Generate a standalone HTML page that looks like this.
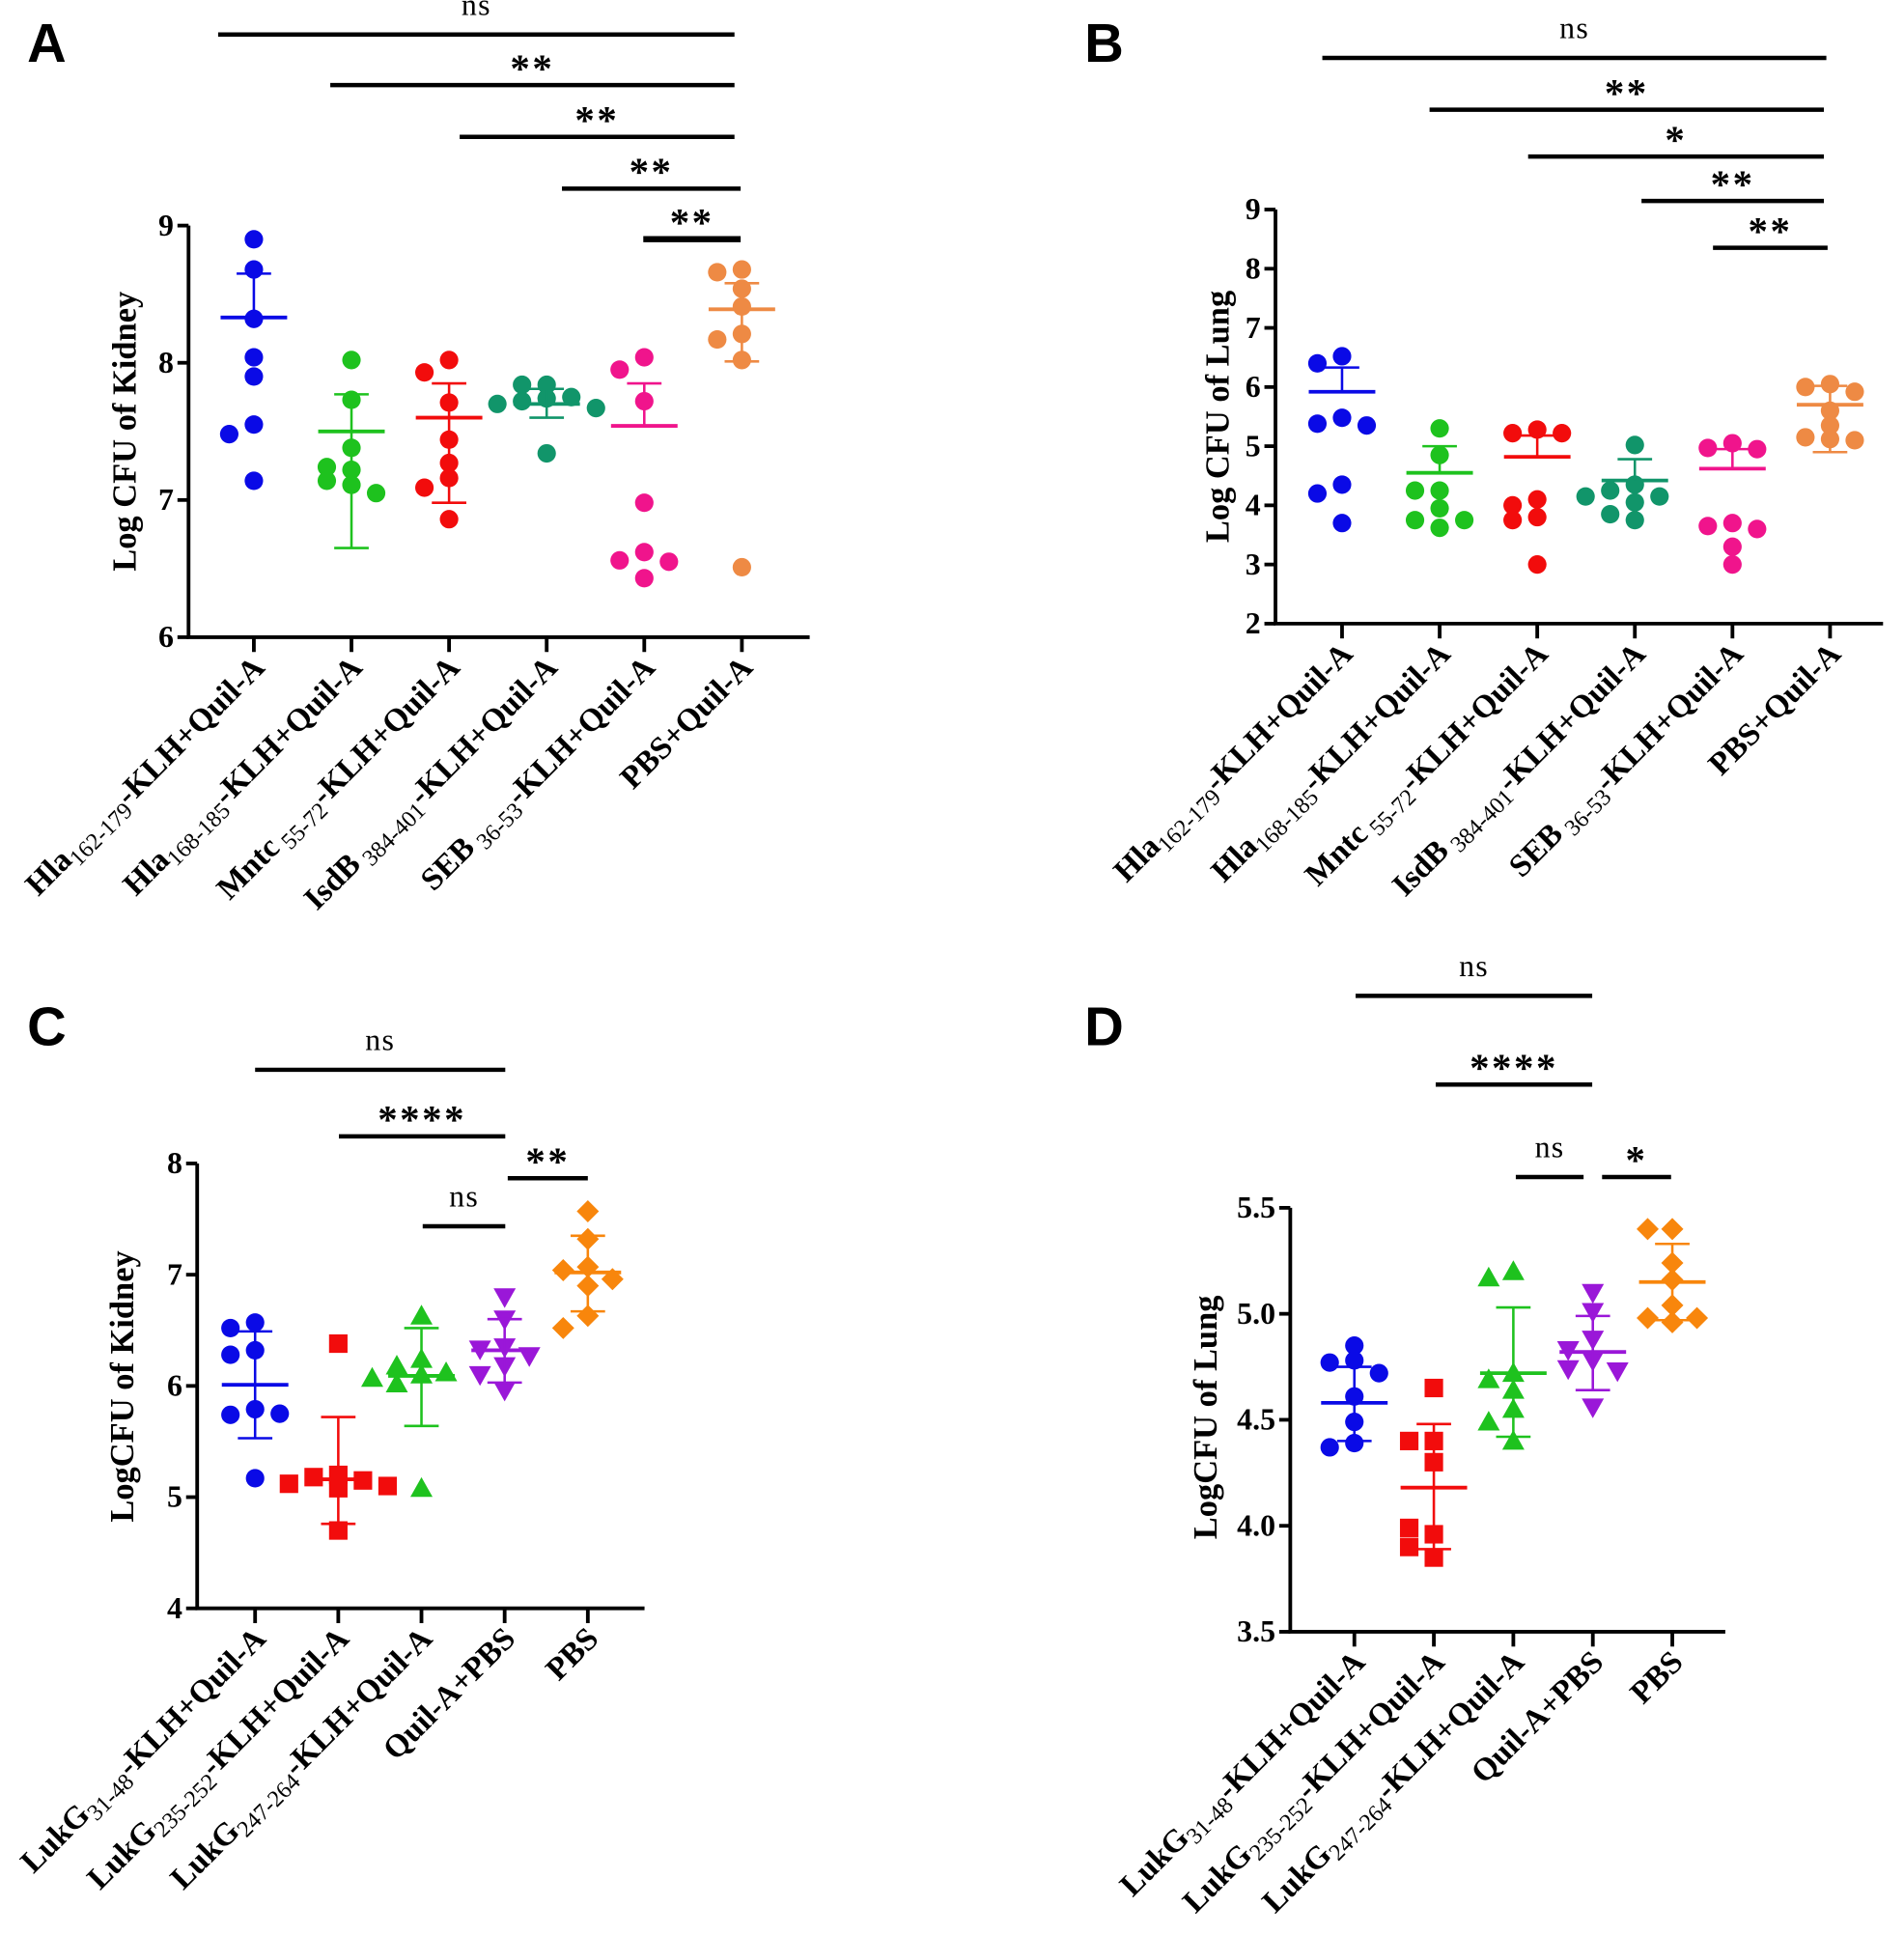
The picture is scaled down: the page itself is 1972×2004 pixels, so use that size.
<!DOCTYPE html>
<html><head><meta charset="utf-8"><style>
html,body{margin:0;padding:0;background:#fff;}
svg{display:block;}
</style></head><body>
<svg id="fig" width="1972" height="2004" viewBox="0 0 1545 1570" xmlns="http://www.w3.org/2000/svg" font-family="Liberation Serif, serif"></svg>
<script>
// ---- Panel A data ----
const catsA = [["Hla","162-179","-KLH+Quil-A"],["Hla","168-185","-KLH+Quil-A"],["Mntc"," 55-72","-KLH+Quil-A"],["IsdB"," 384-401","-KLH+Quil-A"],["SEB"," 36-53","-KLH+Quil-A"],["PBS+Quil-A","",""]];
const valsA = [[8.9,8.68,8.32,8.04,7.9,7.55,7.48,7.14],[8.02,7.73,7.38,7.22,7.24,7.14,7.11,7.05],[8.02,7.93,7.71,7.44,7.27,7.16,7.09,6.86],[7.84,7.84,7.75,7.74,7.72,7.7,7.67,7.34],[8.04,7.95,7.72,6.98,6.62,6.56,6.55,6.43],[8.68,8.66,8.54,8.41,8.21,8.17,8.02,6.51]];
const meanA = [8.33,7.5,7.6,7.7,7.54,8.39];
const upA = [8.65,7.77,7.85,7.81,7.85,8.58];
const loA = [8.33,6.65,6.98,7.6,7.54,8.01];
const ticksA = [6,7,8,9];
// ---- Panel B data ----
const valsB = [[6.52,6.4,5.48,5.38,5.35,4.35,4.2,3.7],[5.3,4.85,4.25,4.25,3.95,3.75,3.62,3.75],[5.28,5.22,5.22,4.1,4.0,3.8,3.75,3.0],[5.02,4.35,4.25,4.15,4.05,4.15,3.85,3.75],[5.05,4.97,4.95,3.7,3.65,3.6,3.3,3.0],[6.05,6.0,5.92,5.6,5.35,5.15,5.12,5.1]];
const meanB = [5.92,4.55,4.82,4.42,4.62,5.7];
const upB = [6.33,5.0,5.18,4.78,4.95,6.02];
const loB = [5.92,4.55,4.82,4.42,4.62,4.9];
const ticksB = [2,3,4,5,6,7,8,9];
// ---- Panel C data ----
const catsC = [["LukG","31-48","-KLH+Quil-A"],["LukG","235-252","-KLH+Quil-A"],["LukG","247-264","-KLH+Quil-A"],["Quil-A+PBS","",""],["PBS","",""]];
const valsC = [[6.57,6.52,6.32,6.28,5.79,5.74,5.75,5.17],[6.38,5.2,5.18,5.15,5.12,5.1,5.08,4.7],[6.63,6.24,6.18,6.12,6.1,6.07,6.02,5.08],[6.8,6.6,6.35,6.33,6.27,6.18,6.1,5.96],[7.57,7.32,7.07,7.04,6.96,6.9,6.63,6.52]];
const meanC = [6.01,5.16,6.09,6.32,7.02];
const upC = [6.49,5.72,6.52,6.6,7.35];
const loC = [5.53,4.76,5.64,6.03,6.67];
const ticksC = [4,5,6,7,8];
// ---- Panel D data ----
const valsD = [[4.85,4.78,4.77,4.72,4.61,4.49,4.39,4.37],[4.65,4.4,4.4,4.3,3.96,3.99,3.9,3.85],[5.2,5.17,4.72,4.69,4.64,4.55,4.49,4.4],[5.1,5.01,4.88,4.83,4.78,4.74,4.73,4.56],[5.4,5.4,5.24,5.16,5.04,4.98,4.98,4.96]];
const meanD = [4.58,4.18,4.72,4.82,5.15];
const upD = [4.75,4.48,5.03,4.99,5.33];
const loD = [4.4,3.89,4.42,4.64,4.97];
const ticksD = [3.5,4.0,4.5,5.0,5.5];

const NS="http://www.w3.org/2000/svg";
const svg=document.getElementById('fig');
function el(tag,attrs,parent){const e=document.createElementNS(NS,tag);for(const k in attrs)e.setAttribute(k,attrs[k]);(parent||svg).appendChild(e);return e;}

function panel(cfg){
  const g=el('g',{});
  
  
  const y=v=>cfg.y0+(v-cfg.vmin)/(cfg.vmax-cfg.vmin)*(cfg.y1-cfg.y0);
  const x=i=>cfg.cx0+i*cfg.dx;
  const L=el('text',{x:cfg.lx,y:cfg.ly,'font-size':44,'font-weight':'bold',style:'font-family:"Liberation Sans",sans-serif'},g);
  L.textContent=cfg.letter;
  
  
  const ax=el('path',{d:`M${cfg.ax} ${cfg.y1} V${cfg.y0} H${cfg.axEnd}`,stroke:'#000','stroke-width':3,fill:'none'},g);
  
  
  cfg.ticks.forEach(t=>{
    el('line',{x1:cfg.ax-9,x2:cfg.ax,y1:y(t),y2:y(t),stroke:'#000','stroke-width':3},g);
    const tt=el('text',{x:cfg.ax-12,y:y(t)+8,'text-anchor':'end','font-size':25,'font-weight':'bold'},g);
    tt.textContent=cfg.fmt(t);
    
    
  });
  const yt=el('text',{x:0,y:0,transform:`translate(${cfg.ytx},${cfg.yty}) rotate(-90)`,'text-anchor':'middle','font-size':27,'font-weight':'bold'},g);
  yt.textContent=cfg.ytitle;
  
  
  cfg.cats.forEach((c,i)=>{
    el('line',{x1:x(i),x2:x(i),y1:cfg.y0,y2:cfg.y0+12,stroke:'#000','stroke-width':3},g);
    const t=el('text',{x:0,y:0,transform:`translate(${x(i)+10},${cfg.y0+26}) rotate(-45)`,'text-anchor':'end','font-size':26,'font-weight':'bold'},g);
    
    
    const a=el('tspan',{},t);a.textContent=c[0];
    if(c[1]){const b=el('tspan',{'font-weight':'normal','font-size':19,dy:6},t);b.textContent=c[1];
      const d=el('tspan',{dy:-6},t);d.textContent=c[2];}
  });
  cfg.vals.forEach((arr,i)=>{
    const col=cfg.colors[i];
    const placed=[];
    arr.forEach(v=>{
      const py=y(v);let off=0;
      for(const o of [0,-20,20,-40,40]){if(placed.every(p=>Math.hypot(p[0]-o,p[1]-py)>11)){off=o;break;}}
      placed.push([off,py]);
      const px=x(i)+off;let m;const sh=cfg.shapes[i];
      if(sh==='c')m=el('circle',{cx:px,cy:py,r:7.5,fill:col},g);
      else if(sh==='s')m=el('rect',{x:px-7.5,y:py-7.5,width:15,height:15,fill:col},g);
      else if(sh==='t')m=el('path',{d:`M${px} ${py-9} L${px+9} ${py+7} L${px-9} ${py+7}Z`,fill:col},g);
      else if(sh==='v')m=el('path',{d:`M${px} ${py+9} L${px+9} ${py-7} L${px-9} ${py-7}Z`,fill:col},g);
      else m=el('path',{d:`M${px} ${py-9} L${px+9} ${py} L${px} ${py+9} L${px-9} ${py}Z`,fill:col},g);
      
      
    });
    const ym=y(cfg.mean[i]),yu=y(cfg.up[i]),yl=y(cfg.lo[i]);
    const mb=el('line',{x1:x(i)-27,x2:x(i)+27,y1:ym,y2:ym,stroke:col,'stroke-width':3},g);
    
    
    const eb=el('path',{d:`M${x(i)} ${yu} V${yl} M${x(i)-14} ${yu} H${x(i)+14}`+(cfg.lo[i]<cfg.mean[i]?` M${x(i)-14} ${yl} H${x(i)+14}`:''),stroke:col,'stroke-width':2,fill:'none'},g);
    
    
  });
  cfg.sig.forEach(s=>{
    const ln=el('line',{x1:s[1],x2:s[2],y1:s[3],y2:s[3],stroke:'#000','stroke-width':s[5]||3.5},g);
    
    
    const st=s[0].indexOf('*')>=0;
    const t=el('text',{x:(s[1]+s[2])/2+(s[4]||0),y:s[3]+(st?-3:-16),'text-anchor':'middle','font-size':st?32:25,'font-weight':st?'bold':'normal','letter-spacing':st?2:1},g);
    t.textContent=s[0];
    
    
  });
}
const colsAB=['#0a0ae6','#1ec21e','#f20c0c','#11956a','#f0148c','#ee8a44'];
const colsCD=['#0a0ae6','#f20c0c','#1ec21e','#9a17d8','#f8860c'];
panel({name:'panel-a',letter:'A',lx:22,ly:50,ax:153,axEnd:657,y0:517,y1:183,vmin:6,vmax:9,cx0:206,dx:79.2,
  ticks:ticksA,fmt:t=>String(t),ytitle:'Log CFU of Kidney',ytx:110,yty:350,cats:catsA,vals:valsA,mean:meanA,up:upA,lo:loA,
  colors:colsAB,shapes:['c','c','c','c','c','c'],
  sig:[['ns',177,596,28,0],['**',268,596,69,0],['**',373,596,111,0],['**',456,601,153,0],['**',522,601,194,0,5]]});
panel({name:'panel-b',letter:'B',lx:880,ly:50,ax:1035,axEnd:1528,y0:506,y1:170,vmin:2,vmax:9,cx0:1089,dx:79.2,
  ticks:ticksB,fmt:t=>String(t),ytitle:'Log CFU  of Lung',ytx:997,yty:338,cats:catsA,vals:valsB,mean:meanB,up:upB,lo:loB,
  colors:colsAB,shapes:['c','c','c','c','c','c'],
  sig:[['ns',1073,1482,47,0],['**',1160,1480,89,0],['*',1240,1480,127,0],['**',1332,1480,163,0],['**',1390,1483,201,0]]});
panel({name:'panel-c',letter:'C',lx:22,ly:848,ax:160,axEnd:523,y0:1305,y1:944,vmin:4,vmax:8,cx0:207,dx:67.5,
  ticks:ticksC,fmt:t=>String(t),ytitle:'LogCFU of Kidney',ytx:108,yty:1125,cats:catsC,vals:valsC,mean:meanC,up:upC,lo:loC,
  colors:colsCD,shapes:['c','s','t','v','d'],
  sig:[['ns',207,410,868,0],['****',275,410,922,0],['ns',343,410,995,0],['**',412,477,956,0]]});
panel({name:'panel-d',letter:'D',lx:880,ly:848,ax:1047,axEnd:1400,y0:1324,y1:980,vmin:3.5,vmax:5.5,cx0:1099,dx:64.5,
  ticks:ticksD,fmt:t=>t.toFixed(1),ytitle:'LogCFU of Lung',ytx:987,yty:1150,cats:catsC,vals:valsD,mean:meanD,up:upD,lo:loD,
  colors:colsCD,shapes:['c','s','t','v','d'],
  sig:[['ns',1100,1292,808,0],['****',1165,1292,880,0],['ns',1230,1285,955,0],['*',1300,1356,955,0]]});
</script>
</body></html>
